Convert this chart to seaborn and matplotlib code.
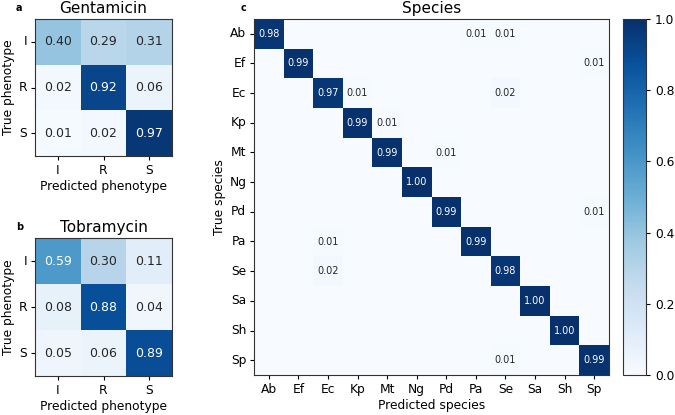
import matplotlib
matplotlib.use("Agg")
import matplotlib.pyplot as plt
import numpy as np
import seaborn as sns

# --- data -------------------------------------------------------------
phenotypes = ["I", "R", "S"]
gentamicin = [
    [0.40, 0.29, 0.31],
    [0.02, 0.92, 0.06],
    [0.01, 0.02, 0.97],
]
tobramycin = [
    [0.59, 0.30, 0.11],
    [0.08, 0.88, 0.04],
    [0.05, 0.06, 0.89],
]

species = ["Ab", "Ef", "Ec", "Kp", "Mt", "Ng", "Pd", "Pa", "Se", "Sa", "Sh", "Sp"]
#                Ab    Ef    Ec    Kp    Mt    Ng    Pd    Pa    Se    Sa    Sh    Sp
species_cm = [
    [0.98, 0.00, 0.00, 0.00, 0.00, 0.00, 0.00, 0.01, 0.01, 0.00, 0.00, 0.00],
    [0.00, 0.99, 0.00, 0.00, 0.00, 0.00, 0.00, 0.00, 0.00, 0.00, 0.00, 0.01],
    [0.00, 0.00, 0.97, 0.01, 0.00, 0.00, 0.00, 0.00, 0.02, 0.00, 0.00, 0.00],
    [0.00, 0.00, 0.00, 0.99, 0.01, 0.00, 0.00, 0.00, 0.00, 0.00, 0.00, 0.00],
    [0.00, 0.00, 0.00, 0.00, 0.99, 0.00, 0.01, 0.00, 0.00, 0.00, 0.00, 0.00],
    [0.00, 0.00, 0.00, 0.00, 0.00, 1.00, 0.00, 0.00, 0.00, 0.00, 0.00, 0.00],
    [0.00, 0.00, 0.00, 0.00, 0.00, 0.00, 0.99, 0.00, 0.00, 0.00, 0.00, 0.01],
    [0.00, 0.00, 0.01, 0.00, 0.00, 0.00, 0.00, 0.99, 0.00, 0.00, 0.00, 0.00],
    [0.00, 0.00, 0.02, 0.00, 0.00, 0.00, 0.00, 0.00, 0.98, 0.00, 0.00, 0.00],
    [0.00, 0.00, 0.00, 0.00, 0.00, 0.00, 0.00, 0.00, 0.00, 1.00, 0.00, 0.00],
    [0.00, 0.00, 0.00, 0.00, 0.00, 0.00, 0.00, 0.00, 0.00, 0.00, 1.00, 0.00],
    [0.00, 0.00, 0.00, 0.00, 0.00, 0.00, 0.00, 0.00, 0.01, 0.00, 0.00, 0.99],
]

plt.rcParams["font.family"] = "DejaVu Sans"
plt.rcParams["axes.linewidth"] = 0.8

W, H = 675, 415
fig = plt.figure(figsize=(W / 100, H / 100), dpi=100)


def px_axes(x0, y0, x1, y1):
    """Axes from pixel box (top-left origin)."""
    return fig.add_axes([x0 / W, 1 - y1 / H, (x1 - x0) / W, (y1 - y0) / H])


ax_a = px_axes(35, 19, 172, 156)
ax_b = px_axes(35, 238, 172, 376)
ax_c = px_axes(254, 19, 609, 375)
cax = px_axes(623, 19, 646, 375)

for ax, cm, title in [(ax_a, gentamicin, "Gentamicin"), (ax_b, tobramycin, "Tobramycin")]:
    sns.heatmap(np.array(cm), ax=ax, cmap="Blues", vmin=0, vmax=1, cbar=False,
                annot=True, fmt=".2f", annot_kws={"fontsize": 9},
                xticklabels=phenotypes, yticklabels=phenotypes, square=False)
    ax.set_title(title, fontsize=11, pad=4)
    ax.set_xlabel("Predicted phenotype", fontsize=8.8, labelpad=2.5)
    ax.set_ylabel("True phenotype", fontsize=8.8, labelpad=2.5)

# only label non-zero cells in the species matrix
cm_c = np.array(species_cm)
labels_c = np.where(cm_c > 0.004, np.char.mod("%.2f", cm_c), "")
sns.heatmap(cm_c, ax=ax_c, cmap="Blues", vmin=0, vmax=1, cbar=True, cbar_ax=cax,
            annot=labels_c, fmt="", annot_kws={"fontsize": 7},
            xticklabels=species, yticklabels=species)
ax_c.set_title("Species", fontsize=11, pad=4)
ax_c.set_xlabel("Predicted species", fontsize=8.8, labelpad=2.5)
ax_c.set_ylabel("True species", fontsize=8.8, labelpad=2.5)

for ax in (ax_a, ax_b, ax_c):
    for s in ax.spines.values():
        s.set_visible(True)
        s.set_linewidth(0.8)
        s.set_color("#333333")
    ax.tick_params(axis="both", length=3, width=0.8, pad=2.5, labelsize=8.8)
    ax.tick_params(axis="y", labelrotation=0)
    ax.tick_params(axis="x", labelrotation=0)

cbar = ax_c.collections[0].colorbar
cbar.set_ticks([0.0, 0.2, 0.4, 0.6, 0.8, 1.0])
cbar.ax.tick_params(labelsize=8.8, length=3, width=0.8)
cbar.outline.set_visible(True)
cbar.outline.set_linewidth(0.8)
cbar.outline.set_edgecolor("#333333")

for x, y, lab in [(16, 3, "a"), (16, 222, "b"), (241, 3, "c")]:
    fig.text(x / W, 1 - y / H, lab, fontsize=7, fontweight="bold", va="top", ha="left")

fig.savefig("out.png", dpi=100)
